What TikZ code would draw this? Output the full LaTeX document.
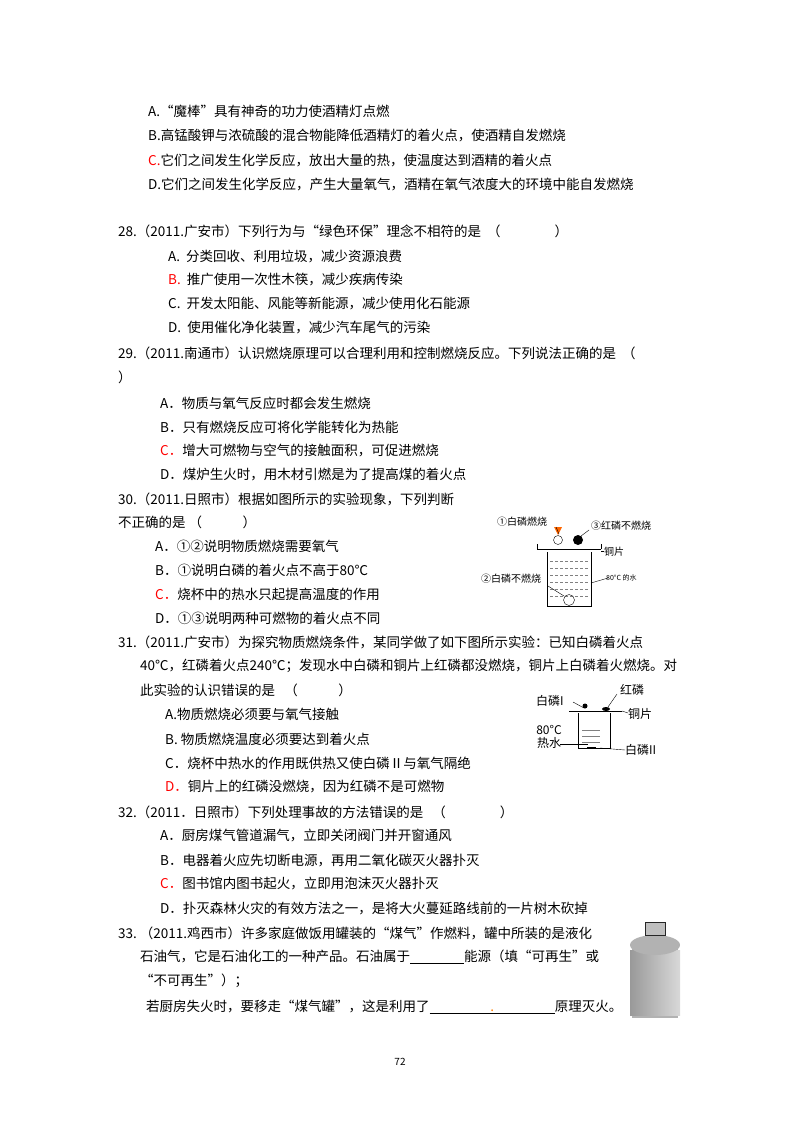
\documentclass[tikz,border=0pt]{standalone}
\usepackage{fontspec}
\setmainfont{Noto Sans CJK SC}
\begin{document}
\begin{tikzpicture}[x=1pt,y=-1pt,
  t/.style={anchor=west,inner sep=0pt,font=\fontsize{13.5}{14}\selectfont},
  s/.style={inner sep=0pt,font=\fontsize{10}{11}\selectfont},
  r/.style={text=red}]
\useasboundingbox (0,0) rectangle (800,1132);
\node[t] (a1) at (148,111) {A.“魔棒”具有神奇的功力使酒精灯点燃};
\node[t] (a2) at (148,136) {B.高锰酸钾与浓硫酸的混合物能降低酒精灯的着火点，使酒精自发燃烧};
\node[t] (a3) at (148,160) {\textcolor{red}{C.}它们之间发生化学反应，放出大量的热，使温度达到酒精的着火点};
\node[t] (a4) at (148,184) {D.它们之间发生化学反应，产生大量氧气，酒精在氧气浓度大的环境中能自发燃烧};
\node[t] (q28) at (118,231) {28.（2011.广安市）下列行为与“绿色环保”理念不相符的是 \ （\hspace{4em}）};
\node[t] (b1) at (168,256) {A.\ \ 分类回收、利用垃圾，减少资源浪费};
\node[t] (b2) at (168,280) {\textcolor{red}{B.}\ \ 推广使用一次性木筷，减少疾病传染};
\node[t] (b3) at (168,304) {C.\ \ 开发太阳能、风能等新能源，减少使用化石能源};
\node[t] (b4) at (168,328) {D.\ \ 使用催化净化装置，减少汽车尾气的污染};
\node[t] (q29) at (118,353) {29.（2011.南通市）认识燃烧原理可以合理利用和控制燃烧反应。下列说法正确的是 \ （};
\node[t] (q29b) at (118,377) {）};
\node[t] (c1) at (160,403) {A．物质与氧气反应时都会发生燃烧};
\node[t] (c2) at (160,427) {B．只有燃烧反应可将化学能转化为热能};
\node[t] (c3) at (160,451) {\textcolor{red}{C．}增大可燃物与空气的接触面积，可促进燃烧};
\node[t] (c4) at (160,475) {D．煤炉生火时，用木材引燃是为了提高煤的着火点};
\node[t] (q30) at (118,499) {30.（2011.日照市）根据如图所示的实验现象，下列判断};
\node[t] (q30b) at (118,522) {不正确的是 （\hspace{3em}）};
\node[t] (d1) at (155,546) {A．①②说明物质燃烧需要氧气};
\node[t] (d2) at (155,570) {B．①说明白磷的着火点不高于80℃};
\node[t] (d3) at (155,594) {\textcolor{red}{C．}烧杯中的热水只起提高温度的作用};
\node[t] (d4) at (155,618) {D．①③说明两种可燃物的着火点不同};
\node[t] (q31) at (118,642) {31.（2011.广安市）为探究物质燃烧条件，某同学做了如下图所示实验：已知白磷着火点};
\node[t] (q31b) at (140,666) {40℃，红磷着火点240℃；发现水中白磷和铜片上红磷都没燃烧，铜片上白磷着火燃烧。对};
\node[t] (q31c) at (140,690) {此实验的认识错误的是 \ \ （\hspace{3em}）};
\node[t] (e1) at (165,714) {A.物质燃烧必须要与氧气接触};
\node[t] (e2) at (165,739) {B.\ 物质燃烧温度必须要达到着火点};
\node[t] (e3) at (165,763) {C．烧杯中热水的作用既供热又使白磷Ⅱ与氧气隔绝};
\node[t] (e4) at (165,787) {\textcolor{red}{D．}铜片上的红磷没燃烧，因为红磷不是可燃物};
\node[t] (q32) at (118,812) {32.（2011．日照市）下列处理事故的方法错误的是 \ \ （\hspace{4em}）};
\node[t] (f1) at (160,836) {A．厨房煤气管道漏气，立即关闭阀门并开窗通风};
\node[t] (f2) at (160,860) {B．电器着火应先切断电源，再用二氧化碳灭火器扑灭};
\node[t] (f3) at (160,884) {\textcolor{red}{C．}图书馆内图书起火，立即用泡沫灭火器扑灭};
\node[t] (f4) at (160,908) {D．扑灭森林火灾的有效方法之一，是将大火蔓延路线前的一片树木砍掉};
\node[t] (q33) at (118,933) {33.\ （2011.鸡西市）许多家庭做饭用罐装的“煤气”作燃料，罐中所装的是液化};
\node[t] (q33b) at (140,957) {石油气，它是石油化工的一种产品。石油属于\underline{\hspace{4em}}能源（填“可再生”或};
\node[t] (q33c) at (140,981) {“不可再生”）；};
\node[t] (q33d) at (146,1007) {若厨房失火时，要移走“煤气罐”，这是利用了\underline{\hspace{4.5em}\textcolor{orange}{.}\hspace{4.5em}}原理灭火。};
\node[s] (pg) at (400,1062) {72};
% figure 30
\node[s,anchor=west] (l1) at (497,522) {①白磷燃烧};
\node[s,anchor=west] (l3) at (591,526) {③红磷不燃烧};
\node[s,anchor=west] (l4) at (604,552) {铜片};
\node[s,anchor=west] (l2) at (481,579) {②白磷不燃烧};
\node[s,anchor=west,font=\fontsize{7}{8}\selectfont] (lw) at (606,578) {80°C 的水};
\draw (537,549) -- (601,549);
\draw (537,549) -- (537,544); \draw (601,549)--(601,544);
\draw (547,552) -- (547,606) -- (591,606) -- (591,552);
\foreach \y in {561,568,575,582,589,596} \draw[densely dashed,gray] (550,\y) -- (588,\y);
\draw (558,540) circle (4.5);
\fill (578,540) circle (5);
\fill[orange!80!red] (554,527) -- (562,527) -- (558,535) -- cycle;
\draw (569,600) circle (5.5);
\draw (556,527) -- (559,534);
\draw (589,530) -- (581,536);
\draw (601,551) -- (604,551);
\draw (608,578) -- (591,583);
\draw (548,586) -- (564,596);
% figure 31
\node[s,anchor=west,font=\fontsize{12}{13}\selectfont] (w1) at (536,701) {白磷I};
\node[s,anchor=west,font=\fontsize{12}{13}\selectfont] (w2) at (620,690) {红磷};
\node[s,anchor=west,font=\fontsize{12}{13}\selectfont] (w3) at (628,714) {铜片};
\node[s,anchor=center,font=\fontsize{12}{13}\selectfont,align=center] (w4) at (549,737) {80°C\\热水};
\node[s,anchor=west,font=\fontsize{12}{13}\selectfont] (w5) at (625,750) {白磷II};
\draw[thick] (569,711) -- (622,711);
\draw (578,713) -- (578,748) -- (610,748) -- (610,713);
\foreach \y in {730,736,742} \draw[gray] (582,\y) -- (600,\y);
\fill (587,747) rectangle (596,749);
\fill (585,706) circle (2.5);
\fill (606,709) ellipse (4 and 2);
\draw (573,702) -- (584,708);
\draw (617,694) -- (608,707);
\draw (622,711) -- (628,713);
\draw (560,744) -- (588,744);
\draw (600,748) -- (625,750);
% cylinder
\fill[gray!60] (632,945) rectangle (678,1018);
\shade[left color=gray!80, right color=gray!30] (630,950) rectangle (680,1015);
\fill[gray!60] (655,945) ellipse (25 and 10);
\draw[gray!30!black,fill=gray!50] (645,922) rectangle (665,935);
\end{tikzpicture}
\end{document}
